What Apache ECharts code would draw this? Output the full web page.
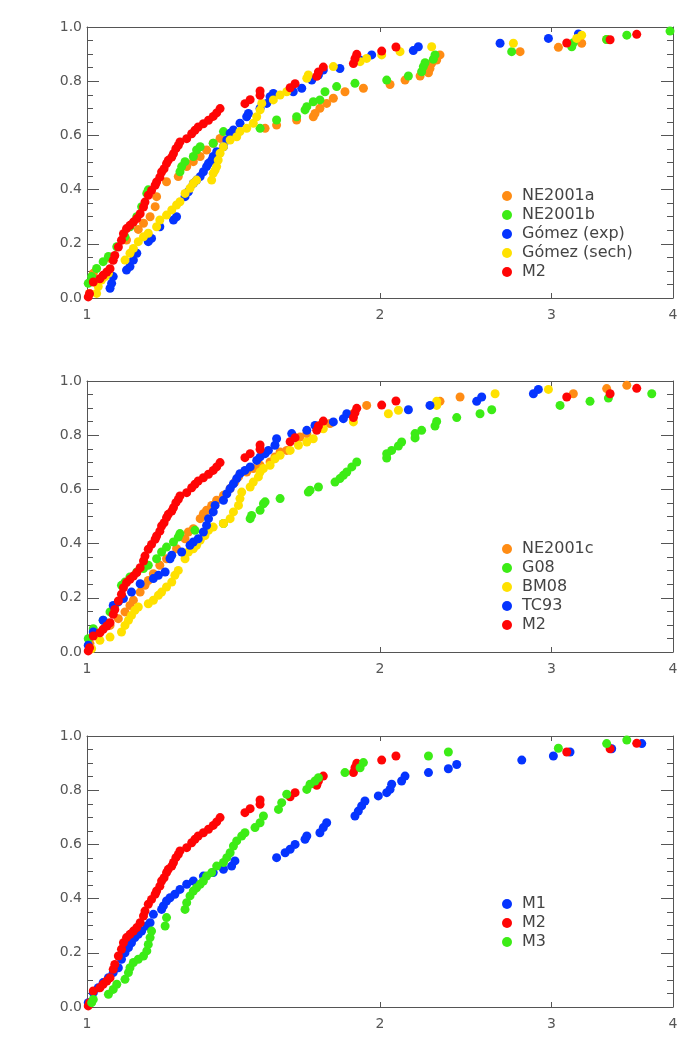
<!DOCTYPE html>
<html>
<head>
<meta charset="utf-8">
<script src="https://cdn.jsdelivr.net/npm/echarts@6/dist/echarts.min.js"></script>
<style>
  html, body { margin: 0; padding: 0; background: #fff; }
  #chart { width: 700px; height: 1063px; }
</style>
</head>
<body>
<div id="chart"></div>
<script>
// tick values
const xTicks = [1, 2, 3, 4];
const yMin = 0, yMax = 1, yStep = 0.2;

// --- panel 1 ---
const ne2001a = [[1.006,0.017],[1.015,0.091],[1.056,0.146],[1.098,0.214],[1.129,0.253],[1.143,0.276],[1.161,0.300],[1.175,0.337],[1.179,0.374],[1.207,0.429],[1.241,0.448],[1.266,0.485],[1.286,0.503],[1.307,0.522],[1.327,0.546],[1.348,0.571],[1.370,0.589],[1.524,0.626],[1.566,0.638],[1.642,0.657],[1.708,0.669],[1.715,0.681],[1.735,0.700],[1.763,0.718],[1.791,0.737],[1.841,0.761],[1.923,0.774],[2.048,0.788],[2.122,0.804],[2.199,0.819],[2.243,0.831],[2.251,0.847],[2.260,0.866],[2.287,0.878],[2.305,0.897],[2.786,0.909],[3.050,0.925],[3.223,0.940],[3.419,0.954]];
const ne2001b = [[1.003,0.054],[1.011,0.079],[1.023,0.109],[1.039,0.134],[1.052,0.153],[1.073,0.189],[1.094,0.226],[1.107,0.263],[1.125,0.300],[1.138,0.337],[1.152,0.386],[1.156,0.399],[1.246,0.466],[1.251,0.485],[1.261,0.503],[1.286,0.522],[1.296,0.546],[1.307,0.558],[1.348,0.571],[1.381,0.614],[1.506,0.626],[1.566,0.657],[1.642,0.669],[1.675,0.694],[1.682,0.706],[1.708,0.724],[1.735,0.731],[1.756,0.761],[1.805,0.780],[1.885,0.792],[2.032,0.804],[2.139,0.819],[2.207,0.835],[2.216,0.854],[2.225,0.868],[2.269,0.881],[2.278,0.897],[2.731,0.909],[3.148,0.927],[3.160,0.942],[3.419,0.954],[3.586,0.970],[3.972,0.985]];
const gomezExp = [[1.056,0.036],[1.060,0.054],[1.064,0.079],[1.098,0.103],[1.107,0.116],[1.116,0.140],[1.125,0.165],[1.156,0.208],[1.165,0.220],[1.188,0.263],[1.227,0.288],[1.236,0.300],[1.261,0.374],[1.271,0.392],[1.286,0.423],[1.296,0.435],[1.307,0.448],[1.317,0.466],[1.327,0.485],[1.333,0.497],[1.343,0.509],[1.348,0.522],[1.359,0.540],[1.381,0.558],[1.392,0.583],[1.403,0.608],[1.414,0.620],[1.436,0.645],[1.459,0.669],[1.465,0.681],[1.506,0.700],[1.530,0.718],[1.542,0.743],[1.554,0.755],[1.629,0.761],[1.662,0.774],[1.702,0.804],[1.729,0.823],[1.749,0.841],[1.819,0.847],[1.908,0.878],[1.961,0.897],[2.164,0.913],[2.190,0.927],[2.657,0.940],[2.979,0.958],[3.198,0.974]];
const gomezSech = [[1.023,0.017],[1.027,0.042],[1.035,0.066],[1.044,0.079],[1.052,0.091],[1.094,0.140],[1.107,0.165],[1.116,0.183],[1.129,0.208],[1.143,0.226],[1.156,0.239],[1.179,0.263],[1.188,0.288],[1.207,0.306],[1.222,0.325],[1.236,0.343],[1.246,0.355],[1.261,0.386],[1.276,0.405],[1.286,0.423],[1.296,0.435],[1.343,0.435],[1.348,0.460],[1.354,0.472],[1.359,0.485],[1.364,0.509],[1.370,0.534],[1.381,0.558],[1.403,0.583],[1.425,0.595],[1.436,0.614],[1.459,0.626],[1.482,0.645],[1.494,0.669],[1.506,0.694],[1.512,0.718],[1.554,0.731],[1.579,0.749],[1.604,0.761],[1.682,0.811],[1.688,0.823],[1.791,0.854],[1.908,0.872],[1.938,0.884],[2.008,0.897],[2.097,0.909],[2.260,0.927],[2.742,0.940],[3.185,0.958],[3.223,0.970]];
// M2 is the same model in all three panels
const m2 = [[1.003,0.004],[1.006,0.016],[1.015,0.059],[1.031,0.071],[1.039,0.084],[1.048,0.096],[1.056,0.108],[1.064,0.139],[1.068,0.157],[1.077,0.188],[1.085,0.213],[1.090,0.237],[1.098,0.256],[1.107,0.268],[1.116,0.280],[1.125,0.293],[1.134,0.311],[1.143,0.336],[1.147,0.354],[1.156,0.379],[1.165,0.397],[1.175,0.416],[1.179,0.428],[1.188,0.446],[1.193,0.465],[1.200,0.477],[1.207,0.496],[1.212,0.508],[1.222,0.520],[1.227,0.533],[1.234,0.551],[1.241,0.563],[1.246,0.576],[1.266,0.588],[1.281,0.606],[1.291,0.619],[1.301,0.631],[1.317,0.643],[1.333,0.656],[1.348,0.670],[1.359,0.683],[1.370,0.699],[1.453,0.717],[1.471,0.732],[1.506,0.748],[1.506,0.764],[1.617,0.776],[1.636,0.791],[1.722,0.818],[1.729,0.834],[1.749,0.852],[1.878,0.865],[1.885,0.883],[1.893,0.899],[2.008,0.911],[2.077,0.926],[3.111,0.941],[3.447,0.953],[3.671,0.973]];

// --- panel 2 ---
const ne2001c = [[1.007,0.031],[1.056,0.098],[1.077,0.123],[1.094,0.148],[1.107,0.172],[1.116,0.191],[1.134,0.221],[1.147,0.246],[1.156,0.264],[1.170,0.289],[1.188,0.320],[1.207,0.344],[1.236,0.381],[1.261,0.418],[1.271,0.443],[1.286,0.455],[1.307,0.492],[1.317,0.510],[1.327,0.523],[1.343,0.541],[1.359,0.560],[1.381,0.578],[1.403,0.603],[1.419,0.627],[1.431,0.646],[1.459,0.664],[1.482,0.677],[1.506,0.689],[1.542,0.701],[1.560,0.720],[1.579,0.738],[1.604,0.744],[1.655,0.793],[1.682,0.806],[1.735,0.836],[1.777,0.843],[1.878,0.879],[1.938,0.910],[2.305,0.925],[2.417,0.941],[3.160,0.953],[3.419,0.972],[3.586,0.984]];
const g08 = [[1.003,0.049],[1.015,0.086],[1.039,0.117],[1.056,0.148],[1.068,0.172],[1.085,0.246],[1.094,0.258],[1.107,0.277],[1.125,0.295],[1.143,0.308],[1.156,0.320],[1.179,0.344],[1.193,0.369],[1.207,0.387],[1.227,0.406],[1.241,0.424],[1.246,0.437],[1.291,0.449],[1.381,0.474],[1.471,0.492],[1.476,0.504],[1.506,0.523],[1.518,0.547],[1.524,0.554],[1.579,0.566],[1.688,0.590],[1.695,0.597],[1.729,0.609],[1.798,0.627],[1.819,0.640],[1.834,0.652],[1.849,0.664],[1.871,0.683],[1.893,0.701],[2.032,0.716],[2.032,0.732],[2.056,0.744],[2.089,0.760],[2.105,0.775],[2.173,0.790],[2.173,0.806],[2.207,0.818],[2.278,0.834],[2.287,0.851],[2.398,0.865],[2.534,0.879],[2.605,0.894],[3.062,0.910],[3.287,0.925],[3.433,0.937],[3.804,0.953]];
const bm08 = [[1.011,0.012],[1.031,0.043],[1.056,0.055],[1.085,0.074],[1.094,0.098],[1.103,0.117],[1.111,0.135],[1.120,0.154],[1.129,0.166],[1.156,0.178],[1.170,0.191],[1.184,0.209],[1.193,0.221],[1.207,0.240],[1.222,0.258],[1.231,0.283],[1.241,0.301],[1.261,0.344],[1.271,0.369],[1.286,0.381],[1.296,0.394],[1.307,0.412],[1.322,0.430],[1.333,0.449],[1.348,0.461],[1.381,0.474],[1.403,0.492],[1.414,0.517],[1.431,0.541],[1.436,0.566],[1.442,0.590],[1.471,0.609],[1.482,0.627],[1.500,0.646],[1.506,0.664],[1.518,0.677],[1.542,0.689],[1.560,0.713],[1.579,0.726],[1.617,0.744],[1.649,0.763],[1.682,0.775],[1.708,0.787],[1.749,0.824],[1.878,0.849],[2.040,0.879],[2.089,0.892],[2.287,0.910],[2.287,0.925],[2.626,0.953],[2.979,0.969]];
const tc93 = [[1.003,0.025],[1.015,0.074],[1.039,0.117],[1.064,0.172],[1.077,0.185],[1.090,0.197],[1.111,0.221],[1.134,0.252],[1.170,0.271],[1.184,0.283],[1.203,0.295],[1.217,0.344],[1.222,0.357],[1.251,0.369],[1.276,0.394],[1.286,0.406],[1.301,0.418],[1.317,0.443],[1.327,0.467],[1.333,0.492],[1.348,0.517],[1.354,0.541],[1.381,0.560],[1.392,0.584],[1.403,0.603],[1.414,0.621],[1.425,0.640],[1.436,0.658],[1.453,0.670],[1.471,0.683],[1.494,0.707],[1.506,0.720],[1.524,0.732],[1.536,0.744],[1.560,0.763],[1.566,0.787],[1.623,0.806],[1.682,0.818],[1.715,0.836],[1.791,0.849],[1.834,0.861],[1.849,0.879],[2.139,0.894],[2.251,0.910],[2.514,0.925],[2.544,0.941],[2.875,0.953],[2.909,0.969]];

// --- panel 3 ---
const m1 = [[1.003,0.016],[1.015,0.053],[1.027,0.071],[1.039,0.090],[1.052,0.108],[1.064,0.127],[1.077,0.145],[1.085,0.176],[1.094,0.200],[1.103,0.219],[1.111,0.237],[1.120,0.256],[1.129,0.268],[1.138,0.280],[1.152,0.299],[1.161,0.311],[1.170,0.342],[1.193,0.360],[1.198,0.373],[1.207,0.391],[1.217,0.403],[1.231,0.416],[1.246,0.434],[1.266,0.453],[1.286,0.465],[1.317,0.483],[1.348,0.496],[1.381,0.508],[1.408,0.520],[1.419,0.539],[1.566,0.551],[1.598,0.569],[1.617,0.582],[1.636,0.600],[1.675,0.619],[1.682,0.631],[1.735,0.643],[1.749,0.662],[1.763,0.680],[1.885,0.705],[1.900,0.723],[1.915,0.742],[1.930,0.760],[1.992,0.779],[2.032,0.791],[2.048,0.803],[2.056,0.822],[2.105,0.834],[2.122,0.852],[2.243,0.865],[2.351,0.879],[2.398,0.895],[2.797,0.911],[3.014,0.926],[3.135,0.941],[3.460,0.953],[3.715,0.972]];
const m3 = [[1.011,0.016],[1.015,0.028],[1.052,0.047],[1.064,0.065],[1.073,0.084],[1.094,0.102],[1.103,0.127],[1.107,0.145],[1.116,0.164],[1.129,0.176],[1.143,0.188],[1.152,0.207],[1.156,0.231],[1.161,0.256],[1.165,0.280],[1.203,0.299],[1.207,0.330],[1.261,0.360],[1.266,0.385],[1.276,0.410],[1.286,0.428],[1.296,0.440],[1.307,0.453],[1.317,0.465],[1.327,0.483],[1.343,0.496],[1.359,0.520],[1.381,0.533],[1.392,0.551],[1.403,0.569],[1.414,0.594],[1.425,0.613],[1.442,0.631],[1.453,0.643],[1.488,0.662],[1.506,0.680],[1.518,0.705],[1.573,0.729],[1.585,0.754],[1.604,0.785],[1.682,0.803],[1.695,0.822],[1.715,0.834],[1.729,0.846],[1.841,0.865],[1.908,0.883],[1.923,0.902],[2.243,0.926],[2.351,0.941],[3.050,0.955],[3.419,0.972],[3.586,0.985]];

const ORANGE = '#ff8c14', GREEN = '#3cec16', BLUE = '#0534ff', YELLOW = '#ffe100', RED = '#ff0505';
const AXIS_COLOR = '#555';
const FONT = 'DejaVu Sans';

// panel layout: grid top in px, legend top in px, series list
const panels = [
  { top: 27, legendTop: 183, series: [
    { name: 'NE2001a', data: ne2001a, color: ORANGE },
    { name: 'NE2001b', data: ne2001b, color: GREEN },
    { name: 'Gómez (exp)', data: gomezExp, color: BLUE },
    { name: 'Gómez (sech)', data: gomezSech, color: YELLOW },
    { name: 'M2', data: m2, color: RED },
  ] },
  { top: 381, legendTop: 536, series: [
    { name: 'NE2001c', data: ne2001c, color: ORANGE },
    { name: 'G08', data: g08, color: GREEN },
    { name: 'BM08', data: bm08, color: YELLOW },
    { name: 'TC93', data: tc93, color: BLUE },
    { name: 'M2', data: m2, color: RED },
  ] },
  { top: 736, legendTop: 891, series: [
    { name: 'M1', data: m1, color: BLUE },
    { name: 'M2', data: m2, color: RED },
    { name: 'M3', data: m3, color: GREEN },
  ] },
];

const grid = [], xAxis = [], yAxis = [], legend = [], series = [];

panels.forEach((p, i) => {
  grid.push({ left: 87, width: 586, top: p.top, height: 271, outerBoundsMode: 'none' });

  const xBase = {
    type: 'log', logBase: 2, min: 1, max: 4, gridIndex: i,
    axisLine: { show: true, onZero: false, lineStyle: { color: AXIS_COLOR, width: 1 } },
    axisTick: { show: true, inside: true, length: 5, customValues: xTicks, lineStyle: { color: AXIS_COLOR } },
    splitLine: { show: false },
    minorTick: { show: false },
  };
  xAxis.push(Object.assign({}, xBase, {
    position: 'bottom',
    axisLabel: { show: true, customValues: xTicks, margin: 10, color: AXIS_COLOR, fontSize: 14, fontFamily: FONT, formatter: v => String(Math.round(v)) },
  }));
  xAxis.push(Object.assign({}, xBase, { position: 'top', axisLabel: { show: false } }));

  const yBase = {
    type: 'value', min: yMin, max: yMax, interval: yStep, gridIndex: i,
    axisLine: { show: true, onZero: false, lineStyle: { color: AXIS_COLOR, width: 1 } },
    axisTick: { show: true, inside: true, length: 12, lineStyle: { color: AXIS_COLOR } },
    minorTick: { show: true, splitNumber: 4, length: 6, lineStyle: { color: AXIS_COLOR } },
    splitLine: { show: false },
  };
  yAxis.push(Object.assign({}, yBase, {
    position: 'left',
    axisLabel: { margin: 5, color: AXIS_COLOR, fontSize: 14, fontFamily: FONT, formatter: v => v.toFixed(1) },
  }));
  yAxis.push(Object.assign({}, yBase, { position: 'right', axisLabel: { show: false } }));

  legend.push({
    orient: 'vertical', left: 497, top: p.legendTop,
    itemWidth: 20, itemHeight: 10, itemGap: 3, icon: 'circle',
    selectedMode: false,
    data: p.series.map(s => s.name),
    textStyle: { fontSize: 16, color: '#444', fontFamily: FONT },
  });

  p.series.forEach(s => {
    series.push({
      name: s.name, type: 'scatter',
      xAxisIndex: i * 2, yAxisIndex: i * 2,
      data: s.data, symbol: 'circle', symbolSize: 9,
      itemStyle: { color: s.color, opacity: 1 },
      emphasis: { disabled: true },
      animation: false,
    });
  });
});

const chart = echarts.init(document.getElementById('chart'));
chart.setOption({
  backgroundColor: '#fff',
  animation: false,
  grid, xAxis, yAxis, legend, series,
});
</script>
</body>
</html>
